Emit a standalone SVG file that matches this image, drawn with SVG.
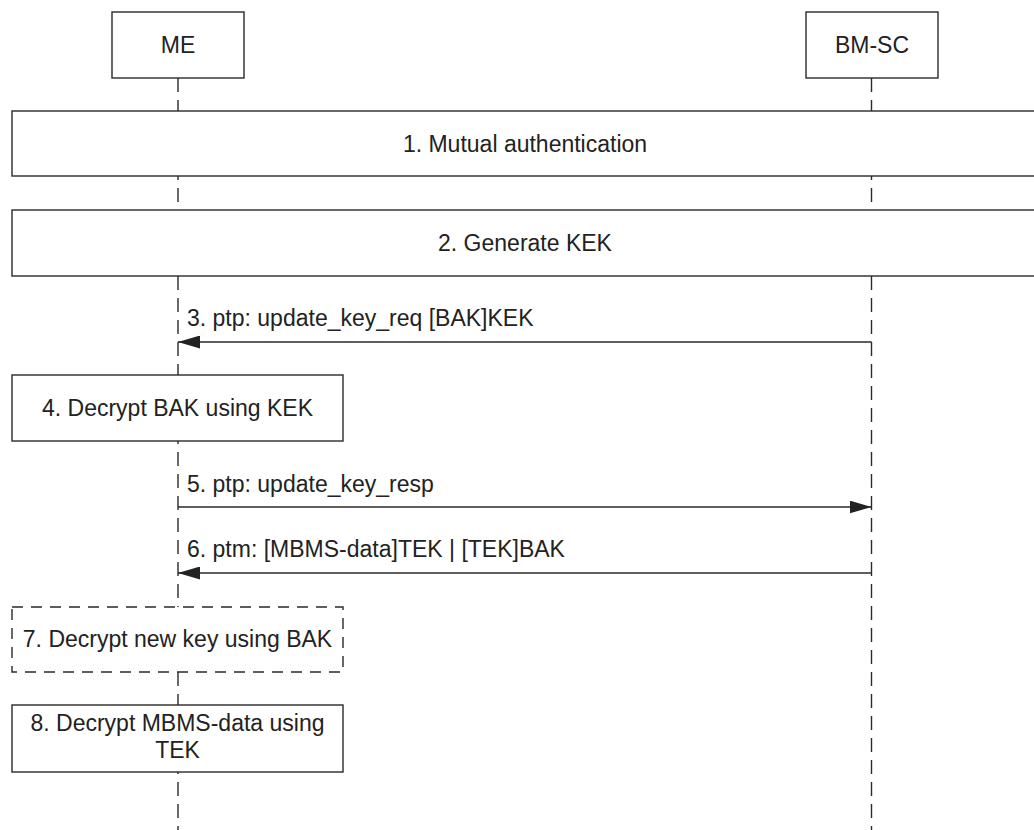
<svg xmlns="http://www.w3.org/2000/svg" width="1034" height="830" viewBox="0 0 1034 830">
<style>
.box{fill:#fff;stroke:#2a2a2a;stroke-width:1.4}
.dbox{fill:#fff;stroke:#2a2a2a;stroke-width:1.4;stroke-dasharray:11 8}
.life{stroke:#2a2a2a;stroke-width:1.4;stroke-dasharray:14 8;fill:none}
.msg{stroke:#2a2a2a;stroke-width:1.4;fill:none}
text{font-family:"Liberation Sans",Arial,sans-serif;font-size:23px;fill:#222}
.c{text-anchor:middle}
</style>
<defs>
<marker id="ah" markerWidth="22" markerHeight="13" refX="22" refY="6.5" orient="auto" markerUnits="userSpaceOnUse">
<path d="M0,0 L22,6.5 L0,13 Z" fill="#222"/>
</marker>
</defs>
<g id="lifelines">
<line class="life" x1="178" y1="78" x2="178" y2="830"/>
<line class="life" x1="871.5" y1="78" x2="871.5" y2="830"/>
</g>
<g id="ME"><rect class="box" x="112" y="12" width="132" height="66"/><text class="c" x="178" y="53">ME</text></g>
<g id="BMSC"><rect class="box" x="806" y="12" width="132" height="66"/><text class="c" x="872" y="53">BM-SC</text></g>
<g id="step1"><rect class="box" x="12" y="111" width="1030" height="65"/><text class="c" x="525" y="152">1. Mutual authentication</text></g>
<g id="step2"><rect class="box" x="12" y="210" width="1030" height="66"/><text class="c" x="525" y="251">2. Generate KEK</text></g>
<g id="step4"><rect class="box" x="12" y="375" width="331" height="66"/><text class="c" x="177.5" y="416">4. Decrypt BAK using KEK</text></g>
<g id="step7"><rect class="dbox" x="12" y="607" width="331" height="65"/><text class="c" x="177.5" y="647">7. Decrypt new key using BAK</text></g>
<g id="step8"><rect class="box" x="12" y="705" width="331" height="67"/><text class="c" x="177.5" y="731">8. Decrypt MBMS-data using</text><text class="c" x="177.5" y="758">TEK</text></g>
<g id="connectors">
<line class="msg" x1="871.5" y1="342" x2="178" y2="342" marker-end="url(#ah)"/>
<text x="187" y="326">3. ptp: update_key_req [BAK]KEK</text>
<line class="msg" x1="178" y1="507" x2="871.5" y2="507" marker-end="url(#ah)"/>
<text x="187" y="492">5. ptp: update_key_resp</text>
<line class="msg" x1="871.5" y1="573" x2="178" y2="573" marker-end="url(#ah)"/>
<text x="187" y="557">6. ptm: [MBMS-data]TEK | [TEK]BAK</text>
</g>
</svg>
